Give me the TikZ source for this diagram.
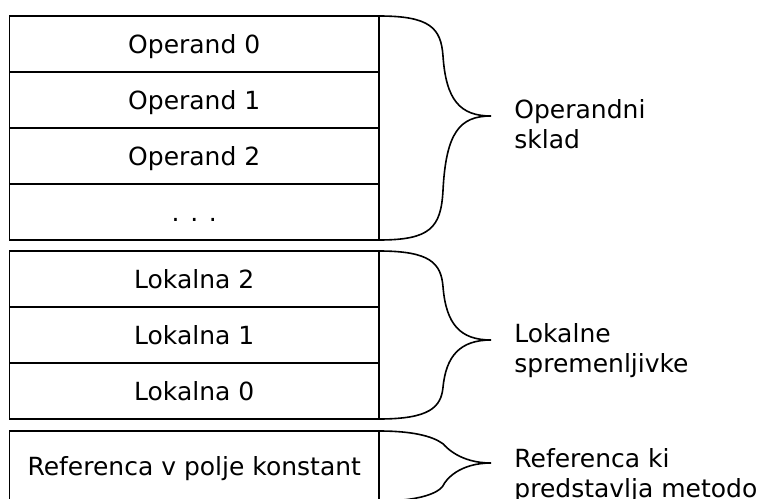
\documentclass[tikz,border=0pt]{standalone}
\usepackage{fontspec}
\setmainfont{DejaVu Sans}
\usetikzlibrary{positioning}

\tikzset{
  cell/.style={draw, line width=0.8pt, outer sep=0pt, minimum width=184.75pt,
    minimum height=28pt, text height=11pt, text depth=2pt},
  sidetext/.style={anchor=base west, inner sep=0pt},
  bracket/.style={line width=0.8pt}
}

\begin{document}
\begin{tikzpicture}[x=0.5pt, y=-0.5pt, font=\fontsize{12.5}{15}\selectfont]
    \useasboundingbox (0,0) rectangle (760,498);
    % operandni sklad
    \node[cell] (op0) at (194.25,44) {Operand 0};
    \node[cell, below=0pt of op0] (op1) {Operand 1};
    \node[cell, below=0pt of op1] (op2) {Operand 2};
    \node[cell, below=0pt of op2] (dots) {. . .};
    % lokalne spremenljivke
    \node[cell, below=5.5pt of dots] (lk2) {Lokalna 2};
    \node[cell, below=0pt of lk2] (lk1) {Lokalna 1};
    \node[cell, below=0pt of lk1] (lk0) {Lokalna 0};
    % referenca
    \node[cell, below=6pt of lk0, minimum height=35pt] (ref) {Referenca v polje konstant};
    % zavite oklepaje: zgoraj / konica / spodaj
    \foreach \t/\m/\b in {16/116/240, 251/340/419, 431/463/501}{
        \draw[bracket] (379,\t) .. controls (430,\t) and (441,\t+12) .. (443,{\t+0.4*(\m-\t)})
            .. controls (446,\m-16) and (460,\m) .. (491,\m)
            .. controls (460,\m) and (446,\m+16) .. (443,{\b-0.4*(\b-\m)})
            .. controls (441,\b-12) and (430,\b) .. (379,\b);
    }
    \node[sidetext] (opl) at (514,118) {\begin{tabular}[t]{@{}l@{}}Operandni\\sklad\end{tabular}};
    \node[sidetext] (lkl) at (514,342) {\begin{tabular}[t]{@{}l@{}}Lokalne\\spremenljivke\end{tabular}};
    \node[sidetext] (refl) at (514,467) {\begin{tabular}[t]{@{}l@{}}Referenca ki\\predstavlja metodo\end{tabular}};
\end{tikzpicture}
\end{document}
